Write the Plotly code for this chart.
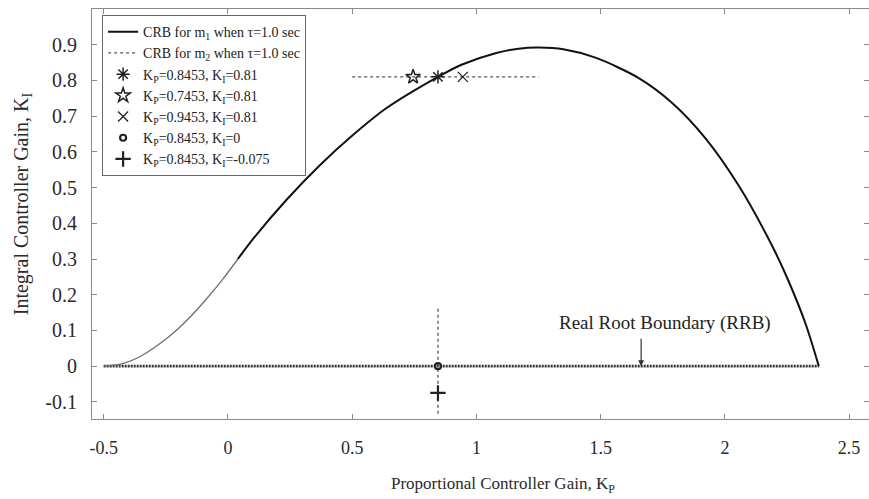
import plotly.graph_objects as go

# CRB for m1 (black part)
kp_m1 = [0.04, 0.102, 0.236, 0.369, 0.503, 0.637, 0.8453, 0.94, 1.08, 1.17, 1.253, 1.35,
         1.482, 1.655, 1.788, 1.922, 2.056, 2.19, 2.257, 2.324, 2.378]
ki_m1 = [0.30, 0.357, 0.466, 0.562, 0.647, 0.722, 0.81, 0.844, 0.877, 0.889, 0.892, 0.887,
         0.863, 0.806, 0.737, 0.638, 0.505, 0.337, 0.237, 0.12, 0.0]
# CRB for m1 (gray lower part)
kp_gray = [-0.5, -0.42, -0.353, -0.233, -0.153, -0.084, -0.019, 0.04]
ki_gray = [0.0, 0.008, 0.027, 0.085, 0.137, 0.19, 0.245, 0.30]
# CRB for m2 (dotted cross lines)
kp_m2 = [0.5, 1.25, None, 0.8453, 0.8453]
ki_m2 = [0.81, 0.81, None, -0.133, 0.167]
# Real root boundary
kp_rrb = [-0.5, 2.378]
ki_rrb = [0.0, 0.0]

# Test points
pt_labels = ["K<sub>P</sub>=0.8453, K<sub>I</sub>=0.81",
             "K<sub>P</sub>=0.7453, K<sub>I</sub>=0.81",
             "K<sub>P</sub>=0.9453, K<sub>I</sub>=0.81",
             "K<sub>P</sub>=0.8453, K<sub>I</sub>=0",
             "K<sub>P</sub>=0.8453, K<sub>I</sub>=-0.075"]
pt_kp = [0.8453, 0.7453, 0.9453, 0.8453, 0.8453]
pt_ki = [0.81, 0.81, 0.81, 0.0, -0.075]
pt_symbols = ["asterisk-open", "star-open", "x-thin-open", "circle-open", "cross-thin-open"]
pt_sizes = [11, 11, 10, 6, 11]
pt_widths = [1.5, 1.5, 1.3, 2.2, 2.2]

x_ticks = [-0.5, 0, 0.5, 1, 1.5, 2, 2.5]
y_ticks = [-0.1, 0, 0.1, 0.2, 0.3, 0.4, 0.5, 0.6, 0.7, 0.8, 0.9]

FONT = "Liberation Serif"
TXT = "#2a2a2a"

fig = go.Figure()

fig.add_trace(go.Scatter(x=kp_rrb, y=ki_rrb, mode="lines", showlegend=False,
                         line=dict(color="#333333", width=2.6, dash="2px,1px")))
fig.add_trace(go.Scatter(x=kp_gray, y=ki_gray, mode="lines", showlegend=False,
                         line=dict(color="#6e6e6e", width=1.3, shape="spline", smoothing=0.8)))
fig.add_trace(go.Scatter(x=kp_m1, y=ki_m1, mode="lines",
                         name="CRB for m<sub>1</sub> when τ=1.0 sec",
                         line=dict(color="#111111", width=2, shape="spline", smoothing=0.8)))
fig.add_trace(go.Scatter(x=kp_m2, y=ki_m2, mode="lines",
                         name="CRB for m<sub>2</sub> when τ=1.0 sec",
                         line=dict(color="#555555", width=1.3, dash="dot")))
for lab, x, y, s, sz, w in zip(pt_labels, pt_kp, pt_ki, pt_symbols, pt_sizes, pt_widths):
    fig.add_trace(go.Scatter(x=[x], y=[y], mode="markers", name=lab,
                             marker=dict(symbol=s, size=sz, color="#222222",
                                         line=dict(color="#222222", width=w))))

fig.add_annotation(x=1.663, y=0.0, xref="x", yref="y", text="", showarrow=True,
                   ax=0, ay=-29, arrowhead=2, arrowsize=1, arrowwidth=1.2,
                   arrowcolor="#333333")
fig.add_annotation(x=1.759, y=0.122, xref="x", yref="y", text="Real Root Boundary (RRB)",
                   showarrow=False, font=dict(family=FONT, size=19, color="#222222"))

# axis titles
fig.add_annotation(x=0.529, y=-0.161, xref="paper", yref="paper",
                   text="Proportional Controller Gain, K<sub>P</sub>", showarrow=False,
                   xanchor="center", yanchor="middle",
                   font=dict(family=FONT, size=17, color=TXT))
fig.add_annotation(x=-0.090, y=0.524, xref="paper", yref="paper",
                   text="Integral Controller Gain, K<sub>I</sub>", showarrow=False,
                   textangle=-90, xanchor="center", yanchor="middle",
                   font=dict(family=FONT, size=20, color=TXT))

axis_common = dict(showline=True, linecolor="#8a8a8a", linewidth=1, mirror="ticks",
                   ticks="inside", ticklen=5, tickcolor="#8a8a8a", showgrid=False,
                   zeroline=False)

fig.update_layout(
    width=869, height=499,
    margin=dict(l=92, r=0, t=9, b=80),
    plot_bgcolor="white", paper_bgcolor="white",
    xaxis=dict(range=[-0.547, 2.58], tickvals=x_ticks,
               ticktext=[str(v) for v in x_ticks], ticklabelstandoff=12,
               tickfont=dict(family=FONT, size=18, color=TXT),
               **axis_common),
    yaxis=dict(range=[-0.148, 1.0], tickvals=y_ticks,
               ticktext=[str(v) for v in y_ticks], ticklabelstandoff=10,
               tickfont=dict(family=FONT, size=20, color=TXT),
               **axis_common),
    legend=dict(x=0.013, y=0.985, xanchor="left", yanchor="top",
                bgcolor="white", bordercolor="#666666", borderwidth=1,
                font=dict(family=FONT, size=14, color="#222222"),
                tracegroupgap=0, itemwidth=30),
    showlegend=True,
)

fig.write_html("out.html")
